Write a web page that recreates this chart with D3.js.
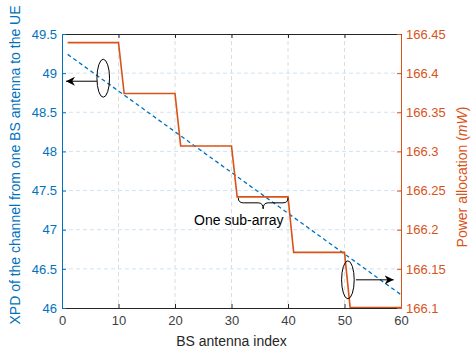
<!DOCTYPE html>
<html>
<head>
<meta charset="utf-8">
<script src="https://cdn.jsdelivr.net/npm/d3@7"></script>
<style>
  body { margin: 0; background: #fff; }
  svg text { font-family: "Liberation Sans", Arial, sans-serif; }
</style>
</head>
<body>
<div id="chart"></div>
<script>
// antenna index and power allocation (mW), one value per sub-array of 10 antennas
var subarrays = [1, 2, 3, 4, 5, 6];
var power_levels = [166.439, 166.374, 166.307, 166.242, 166.171, 166.1005];
// XPD (dB) read at the ends of the dashed line
var xpd_points = [[1, 49.24], [60, 46.17]];

var x_ticks = [0, 10, 20, 30, 40, 50, 60];
var left_ticks = [46, 46.5, 47, 47.5, 48, 48.5, 49, 49.5];
var right_ticks = [166.1, 166.15, 166.2, 166.25, 166.3, 166.35, 166.4, 166.45];

var blue = '#0072BD', orange = '#D95319', dark = '#262626';

var margin = { top: 34, right: 74, bottom: 48, left: 62 },
    W = 475, H = 356,
    width = W - margin.left - margin.right,
    height = H - margin.top - margin.bottom;

var power = [];
subarrays.forEach(function (s, i) {
    for (var k = 1; k <= 10; k++) power.push([(s - 1) * 10 + k, power_levels[i]]);
});

var svg = d3.select('#chart').append('svg')
    .attr('width', W)
    .attr('height', H)
  .append('g')
    .attr('transform', `translate(${margin.left},${margin.top})`);

var x = d3.scaleLinear().domain([0, 60]).range([0, width]);
var yl = d3.scaleLinear().domain([46, 49.5]).range([height, 0]);
var yr = d3.scaleLinear().domain([166.1, 166.45]).range([height, 0]);

// grid
svg.append('g').selectAll('line')
    .data(x_ticks.slice(1, -1))
    .enter().append('line')
    .attr('x1', d => x(d)).attr('x2', d => x(d))
    .attr('y1', 0).attr('y2', height)
    .attr('stroke', '#dcdcdc').attr('stroke-width', 1)
    .attr('stroke-dasharray', '4,3');
svg.append('g').selectAll('line')
    .data(left_ticks.slice(1, -1))
    .enter().append('line')
    .attr('x1', 0).attr('x2', width)
    .attr('y1', d => yl(d)).attr('y2', d => yl(d))
    .attr('stroke', '#cfe3f3').attr('stroke-width', 1)
    .attr('stroke-dasharray', '4,3');

// lines
svg.append('path')
    .datum(xpd_points)
    .attr('fill', 'none')
    .attr('stroke', blue)
    .attr('stroke-width', 1.3)
    .attr('stroke-dasharray', '4,3')
    .attr('d', d3.line().x(d => x(d[0])).y(d => yl(d[1])));

svg.append('path')
    .datum(power)
    .attr('fill', 'none')
    .attr('stroke', orange)
    .attr('stroke-width', 1.6)
    .attr('d', d3.line().x(d => x(d[0])).y(d => yr(d[1])));

// axes
function style_axis(g, color, size) {
    g.select('.domain').attr('stroke', color);
    g.selectAll('.tick line').attr('stroke', color);
    g.selectAll('.tick text').attr('fill', color).style('font-size', size + 'px');
}
svg.append('g')
    .attr('transform', `translate(0,${height})`)
    .call(d3.axisBottom(x).tickValues(x_ticks).tickSizeInner(-4).tickSizeOuter(0).tickPadding(8))
    .call(g => style_axis(g, dark, 13))
    .call(g => g.selectAll('.tick text').attr('fill', '#404040'));
svg.append('g')
    .call(d3.axisTop(x).tickValues(x_ticks).tickSizeInner(-4).tickSizeOuter(0).tickFormat(''))
    .call(g => style_axis(g, dark, 13));
svg.append('g')
    .call(d3.axisLeft(yl).tickValues(left_ticks).tickSizeInner(-4).tickSizeOuter(0).tickPadding(5).tickFormat(d3.format('')))
    .call(g => style_axis(g, blue, 13));
svg.append('g')
    .attr('transform', `translate(${width},0)`)
    .call(d3.axisRight(yr).tickValues(right_ticks).tickSizeInner(-4).tickSizeOuter(0).tickPadding(5).tickFormat(d3.format('')))
    .call(g => style_axis(g, orange, 13));

// axis titles
svg.append('text')
    .attr('x', width / 2).attr('y', height + 38)
    .attr('text-anchor', 'middle')
    .attr('fill', dark).style('font-size', '14px')
    .text('BS antenna index');
svg.append('text')
    .attr('transform', `translate(${-42},${height / 2 - 6}) rotate(-90)`)
    .attr('text-anchor', 'middle')
    .attr('fill', blue).style('font-size', '14px')
    .text('XPD of the channel from one BS antenna to the UE');
var rt = svg.append('text')
    .attr('transform', `translate(${width + 66},${height / 2 + 6}) rotate(-90)`)
    .attr('text-anchor', 'middle')
    .attr('fill', orange).style('font-size', '14px');
rt.append('tspan').text('Power allocation (');
rt.append('tspan').style('font-style', 'italic').text('mW');
rt.append('tspan').text(')');

// annotations
svg.append('defs').append('marker')
    .attr('id', 'arr').attr('viewBox', '0 0 10 10')
    .attr('refX', 10).attr('refY', 5)
    .attr('markerWidth', 9).attr('markerHeight', 9)
    .attr('markerUnits', 'userSpaceOnUse')
    .attr('orient', 'auto')
  .append('path').attr('d', 'M0,0 L10,5 L0,10 L3,5 Z').attr('fill', '#000');

function ellipse_arrow(cx, cy, x_to) {
    svg.append('ellipse')
        .attr('cx', x(cx)).attr('cy', yl(cy))
        .attr('rx', 6.3).attr('ry', 19)
        .attr('fill', 'none').attr('stroke', '#000').attr('stroke-width', 1);
    var x0 = x(cx) + (x_to < cx ? -6.3 : 8);
    svg.append('line')
        .attr('x1', x0).attr('y1', yl(cy) + (x_to < cx ? 3 : 0))
        .attr('x2', x(x_to)).attr('y2', yl(cy) + (x_to < cx ? 3 : 0))
        .attr('stroke', '#000').attr('stroke-width', 1)
        .attr('marker-end', 'url(#arr)');
}
ellipse_arrow(7.3, 48.935, 0.7);
ellipse_arrow(50.6, 46.36, 58.7);

// brace under sub-array 4
var bx0 = x(31.2), bx1 = x(40), by = yr(166.242) + 1, bm = (bx0 + bx1) / 2;
svg.append('path')
    .attr('fill', 'none').attr('stroke', '#000').attr('stroke-width', 1)
    .attr('d', `M${bx0},${by} Q${bx0},${by + 5} ${bx0 + 5},${by + 5} L${bm - 5},${by + 5} Q${bm},${by + 5} ${bm},${by + 11} Q${bm},${by + 5} ${bm + 5},${by + 5} L${bx1 - 5},${by + 5} Q${bx1},${by + 5} ${bx1},${by}`);
svg.append('text')
    .attr('x', x(31.3)).attr('y', yr(166.242) + 28)
    .attr('text-anchor', 'middle')
    .attr('fill', '#000').style('font-size', '14px')
    .text('One sub-array');
</script>
</body>
</html>
